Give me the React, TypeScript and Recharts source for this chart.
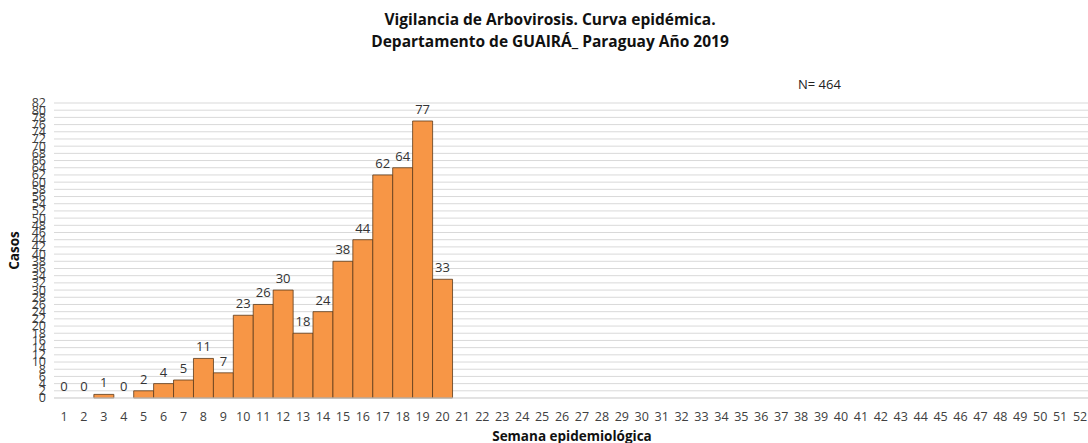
import React from 'react';
import { ComposedChart, Bar, Line, XAxis, YAxis, CartesianGrid, LabelList } from 'recharts';

const weeks: number[] = Array.from({ length: 52 }, (_, i) => i + 1);
const cases: (number | null)[] = [0, 0, 1, 0, 2, 4, 5, 11, 7, 23, 26, 30, 18, 24, 38, 44, 62, 64, 77, 33];
const yTicks: number[] = Array.from({ length: 42 }, (_, i) => i * 2);
const titleLines = ['Vigilancia de Arbovirosis. Curva epidémica.', 'Departamento de GUAIRÁ_ Paraguay Año 2019'];
const nText = 'N= 464';
const xLabel = 'Semana epidemiológica';
const yLabel = 'Casos';

const data = weeks.map((w, i) => ({ week: String(w), casos: i < cases.length ? cases[i] : null }));

const FONT = '"Open Sans", "Noto Sans", sans-serif';

export default function App() {
  return (
    <div style={{ position: 'absolute', left: 0, top: 0, width: 1088, height: 443, background: '#fff', fontFamily: FONT, overflow: 'hidden' }}>
      <div style={{ position: 'absolute', left: 0, top: 8, width: 1100, textAlign: 'center', fontWeight: 700, fontSize: 15.5, lineHeight: '22px', color: '#111' }}>
        <div>{titleLines[0]}</div>
        <div>{titleLines[1]}</div>
      </div>
      <div style={{ position: 'absolute', left: 798, top: 75, fontSize: 13, color: '#222' }}>{nText}</div>
      <div style={{ position: 'absolute', left: 0, top: 0 }}>
        <ComposedChart width={1091} height={443} data={data} margin={{ top: 103, right: 1, bottom: 0, left: 0 }} barCategoryGap={0}>
          <CartesianGrid vertical={false} stroke="#d9d9d9" />
          <XAxis
            dataKey="week"
            interval={0}
            tickLine={false}
            axisLine={{ stroke: '#d9d9d9' }}
            tick={{ fontSize: 12.5, fill: '#404040', fontFamily: FONT }}
            tickMargin={8}
            height={45}
            label={{ value: xLabel, position: 'insideBottom', offset: 2, style: { fontWeight: 700, fontSize: 13.5, fill: '#111', fontFamily: FONT } }}
          />
          <YAxis
            width={54}
            domain={[0, 82]}
            ticks={yTicks}
            interval={0}
            tickLine={false}
            axisLine={false}
            tick={{ fontSize: 12.5, fill: '#404040', fontFamily: FONT }}
            label={{ value: yLabel, angle: -90, position: 'insideLeft', offset: 14, style: { fontWeight: 700, fontSize: 13.5, fill: '#111', fontFamily: FONT, textAnchor: 'middle' } }}
          />
          <Bar dataKey="casos" fill="#F79646" stroke="#5a3a1a" strokeWidth={0.8} isAnimationActive={false} />
          <Line dataKey="casos" stroke="none" dot={false} activeDot={false} legendType="none" isAnimationActive={false}>
            <LabelList dataKey="casos" position="top" offset={7} style={{ fontSize: 13, fill: '#333', fontFamily: FONT }} />
          </Line>
        </ComposedChart>
      </div>
    </div>
  );
}
